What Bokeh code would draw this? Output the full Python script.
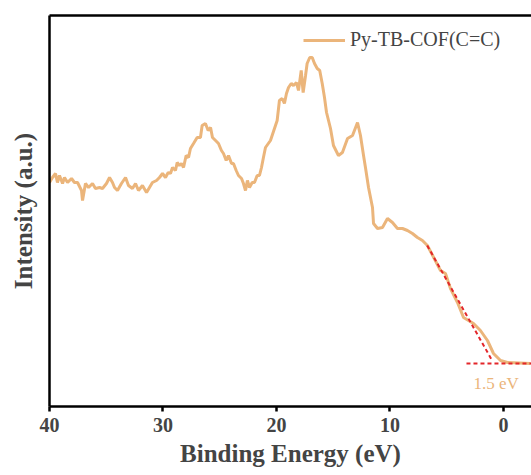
from bokeh.plotting import figure
from bokeh.models import LinearAxis, Legend, LegendItem, Label, FixedTicker, Range1d, ColumnDataSource
from bokeh.embed import file_html
from bokeh.resources import INLINE

# Binding energy (eV) and intensity (a.u.)
energy = [40.00, 39.74, 39.47, 39.30, 39.12, 38.85, 38.68, 38.41, 38.06, 37.80,
          37.53, 37.18, 37.09, 36.83, 36.56, 36.21, 35.95, 35.59, 35.33, 34.98,
          34.71, 34.45, 34.27, 34.01, 33.66, 33.30, 33.04, 32.69, 32.42, 32.16,
          31.81, 31.45, 31.19, 30.93, 30.57, 30.31, 30.04,
          29.78, 29.54, 29.34, 29.16, 28.90, 28.75, 28.55, 28.37, 28.19, 27.96,
          27.75, 27.58, 27.31, 26.99, 26.70, 26.55, 26.26, 26.02, 25.81, 25.64,
          25.37, 25.11, 24.85, 24.67, 24.43, 24.23, 23.96, 23.79, 23.55, 23.35,
          23.08, 22.91, 22.73, 22.56, 22.38, 22.14, 21.94, 21.70, 21.50, 21.32,
          21.15, 20.97, 20.53,
          19.94, 19.74, 19.50, 19.30, 19.12, 18.94, 18.70, 18.50, 18.24, 18.06,
          17.82, 17.65, 17.44, 17.30, 17.07, 16.85, 16.65, 16.41, 16.19, 15.97,
          15.77, 15.59,
          15.24, 14.98, 14.54, 14.19, 13.74, 13.30, 12.86, 12.60, 12.33, 12.16,
          11.89, 11.54, 11.45, 11.10, 10.66, 10.22, 9.78, 9.34, 8.90, 8.46,
          8.02, 7.58, 7.14, 6.70, 5.55, 5.11, 4.67, 4.05, 3.52, 3.08,
          2.64, 2.03, 1.41, 0.88, 0.26, -0.35, -2.38]
intensity = [224, 229, 233, 224, 231, 223, 229, 224, 228, 224,
             224, 216, 206, 223, 219, 223, 218, 219, 218, 223,
             229, 224, 219, 216, 223, 229, 221, 218, 223, 216,
             221, 214, 219, 224, 226, 229, 233,
             229, 234, 233, 239, 236, 244, 241, 243, 239, 251,
             249, 258, 263, 269, 269, 281, 283, 276, 279, 269,
             266, 263, 256, 253, 246, 251, 243, 243, 236, 231,
             228, 223, 216, 226, 219, 224, 224, 231, 231, 239,
             249, 259, 266,
             286, 306, 308, 303, 313, 319, 323, 321, 324, 316,
             336, 314, 331, 343, 349, 349, 343, 338, 336, 323,
             309, 294,
             278, 261, 251, 254, 268, 271, 284, 271, 251, 239,
             219, 199, 183, 178, 179, 188, 184, 178, 178, 176,
             173, 169, 166, 161, 136, 133, 118, 104, 89, 86,
             83, 76, 66, 53, 46, 44, 43]

# Extrapolation lines for the onset
tangent_x = [6.72, 1.00]
tangent_y = [161, 46]
base_x = [3.26, -2.5]
base_y = [43, 43]
onset_label = "1.5 eV"
onset_x = 2.64
onset_y = 23

x_ticks = [40, 30, 20, 10, 0]
series_name = "Py-TB-COF(C=C)"

line_color = "#ebb57b"
red = "#e3262a"
font = "Liberation Serif"

p = figure(width=531, height=475, output_backend="svg", toolbar_location=None,
           x_range=Range1d(40, -2.47), y_range=Range1d(0, 391),
           min_border_left=49, min_border_right=0, min_border_top=15, min_border_bottom=69)
p.outline_line_color = None
p.grid.visible = False
p.background_fill_color = "white"
p.border_fill_color = "white"

src = ColumnDataSource(dict(x=energy, y=intensity))
r = p.line("x", "y", source=src, line_color=line_color, line_width=3)
p.line(tangent_x, tangent_y, line_color=red, line_width=2, line_dash="4 3")
p.line(base_x, base_y, line_color=red, line_width=2, line_dash="4 3")

p.add_layout(Label(x=onset_x, y=onset_y, text=onset_label, text_font=font,
                   text_font_size="17px", text_color=line_color, text_baseline="middle"))

# axes
xa = p.xaxis[0]
xa.ticker = FixedTicker(ticks=x_ticks)
xa.minor_tick_line_color = None
xa.major_tick_out = 5
xa.major_tick_in = 0
xa.major_tick_line_width = 2.5
xa.axis_line_width = 2.5
xa.major_label_text_font = font
xa.major_label_text_font_style = "bold"
xa.major_label_text_font_size = "20px"
xa.major_label_standoff = 6
xa.axis_label = "Binding Energy (eV)"
xa.axis_label_text_font = font
xa.axis_label_text_font_style = "bold"
xa.axis_label_text_font_size = "25px"
xa.axis_label_standoff = 5

ya = p.yaxis[0]
ya.ticker = FixedTicker(ticks=[])
ya.minor_tick_line_color = None
ya.major_tick_out = 0
ya.major_tick_in = 0
ya.axis_line_width = 2.5
ya.axis_label = "Intensity (a.u.)"
ya.axis_label_text_font = font
ya.axis_label_text_font_style = "bold"
ya.axis_label_text_font_size = "25px"
ya.axis_label_standoff = 13

top = LinearAxis(ticker=FixedTicker(ticks=[]), major_tick_out=0, major_tick_in=0,
                 minor_tick_line_color=None, axis_line_width=2.5)
p.add_layout(top, "above")

legend = Legend(items=[LegendItem(label=series_name, renderers=[r])],
                location=(254, 355), padding=0, glyph_width=42, label_standoff=5,
                label_text_font=font, label_text_font_size="20px",
                background_fill_alpha=0, border_line_color=None)
p.add_layout(legend)

open("out.html", "w").write(file_html(p, INLINE))
